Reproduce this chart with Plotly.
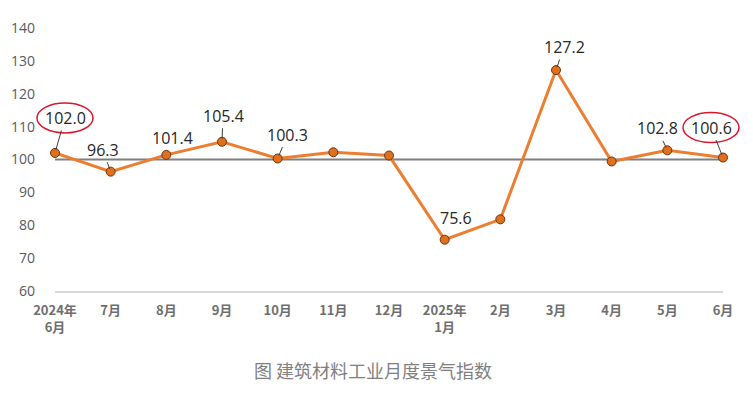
import plotly.graph_objects as go

categories = ["2024年<br>6月", "7月", "8月", "9月", "10月", "11月", "12月",
              "2025年<br>1月", "2月", "3月", "4月", "5月", "6月"]
values = [102.0, 96.3, 101.4, 105.4, 100.3, 102.2, 101.2, 75.6, 81.8, 127.2, 99.4, 102.8, 100.6]
y_ticks = [60, 70, 80, 90, 100, 110, 120, 130, 140]
y_range = [60, 140]
reference_level = 100
title_text = "图 建筑材料工业月度景气指数"

# label offsets (pixels) for labelled points: index -> (ax, ay, show_leader)
label_offsets = {
    0: (10, -35, True),
    1: (-8, -22, True),
    2: (6, -17, False),
    3: (1, -26, True),
    4: (10, -24, True),
    7: (11, -22, False),
    9: (8, -23, True),
    11: (-10, -22, True),
    12: (-12, -30, True),
}
circled = [0, 12]

fig = go.Figure()

fig.add_trace(go.Scatter(
    x=categories, y=values, mode="lines+markers",
    line=dict(color="#ED7D31", width=3),
    marker=dict(size=9, color="#E0701E", line=dict(color="#6b3410", width=1)),
    hoverinfo="skip", showlegend=False, cliponaxis=False,
))

fig.add_shape(type="line", xref="x", yref="y", x0=0, x1=len(categories) - 1,
              y0=reference_level, y1=reference_level,
              line=dict(color="#7f7f7f", width=2), layer="below")

for i, (ax, ay, leader) in label_offsets.items():
    fig.add_annotation(
        x=i, y=values[i], xref="x", yref="y",
        text=f"{values[i]:.1f}", showarrow=True, ax=ax, ay=ay,
        arrowhead=0, arrowwidth=1,
        arrowcolor="#404040" if leader else "rgba(0,0,0,0)",
        standoff=3,
        font=dict(size=16, color="#262626", family="Open Sans"),
    )

n = len(categories) - 1
for i in circled:
    ax, ay, _ = label_offsets[i]
    fig.add_shape(type="circle", xref="paper", yref="paper",
                  xsizemode="pixel", ysizemode="pixel",
                  xanchor=i / n, yanchor=(values[i] - y_range[0]) / (y_range[1] - y_range[0]),
                  x0=ax - 28, x1=ax + 28, y0=-ay - 15, y1=-ay + 15,
                  line=dict(color="#d9182d", width=1.5))

fig.add_annotation(
    text=title_text, xref="paper", yref="paper", x=0.476, y=0, yshift=-79,
    xanchor="center", yanchor="middle", showarrow=False,
    font=dict(size=18, color="#7f7f7f", family="Noto Sans CJK SC"),
)

fig.update_xaxes(
    type="category", range=[0, n], automargin=False,
    showline=True, linecolor="#d9d9d9", linewidth=1.5,
    showgrid=False, zeroline=False,
    ticks="", ticklabelstandoff=7,
    tickfont=dict(size=13, color="#6e6e6e", family="Noto Sans CJK SC", weight="bold"),
)
fig.update_yaxes(
    range=y_range, tickvals=y_ticks, showgrid=False, zeroline=False, automargin=False,
    showline=False, ticks="", ticklabelstandoff=19,
    tickfont=dict(size=14, color="#595959", family="Open Sans"),
)

fig.update_layout(
    width=745, height=391,
    margin=dict(l=47, r=30, t=20, b=108),
    plot_bgcolor="white", paper_bgcolor="white",
)

fig.write_html("out.html")
